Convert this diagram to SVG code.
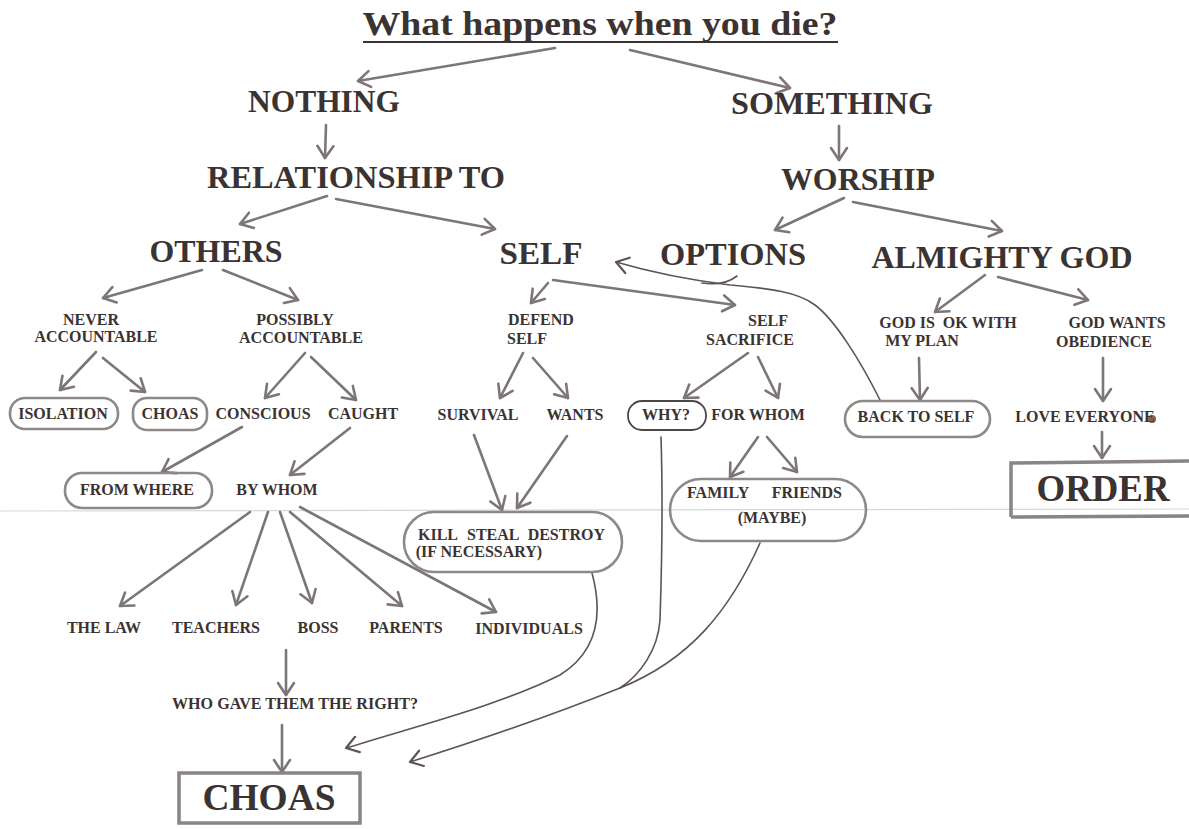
<svg xmlns="http://www.w3.org/2000/svg" width="1189" height="829" viewBox="0 0 1189 829">
<style>
text{font-family:"Liberation Serif","Times New Roman",serif;fill:#3b3232;font-weight:bold}
.big{font-size:32px;text-anchor:middle}
.sm{font-size:16px;text-anchor:middle}
.sm.st{text-anchor:start}
.sm.en{text-anchor:end}
.ar{fill:none;stroke:#7c7676;stroke-width:2.6;stroke-linecap:round;marker-end:url(#v)}
.ln{fill:none;stroke:#5e5454;stroke-width:1.6;stroke-linecap:round}
.ov{fill:none;stroke:#8e8888;stroke-width:2.6}
.box{fill:none;stroke:#8a8484;stroke-width:3.5}
</style>
<defs>
<marker id="v" markerUnits="userSpaceOnUse" markerWidth="20" markerHeight="20" viewBox="0 0 20 20" refX="16" refY="10" orient="auto">
<path d="M4,2 L16,10 L4,18" fill="none" stroke="#7c7676" stroke-width="2.6" stroke-linecap="round" stroke-linejoin="round"/>
</marker>
<marker id="vd" markerUnits="userSpaceOnUse" markerWidth="20" markerHeight="20" viewBox="0 0 20 20" refX="16" refY="10" orient="auto">
<path d="M4,2 L16,10 L4,18" fill="none" stroke="#5e5454" stroke-width="2.2" stroke-linecap="round" stroke-linejoin="round"/>
</marker>
</defs>
<rect width="1189" height="829" fill="#ffffff"/>
<line x1="0" y1="511" x2="1189" y2="509" stroke="#d8d6d6" stroke-width="1.2"/>

<g id="title">
<text x="600" y="35" font-size="33" text-anchor="middle" textLength="475" lengthAdjust="spacingAndGlyphs">What happens when you die?</text>
<line x1="363" y1="42" x2="838" y2="42" stroke="#3b3232" stroke-width="2"/>
</g>

<g id="connectors">
<path class="ar" d="M555,48 L358,81"/>
<path class="ar" d="M630,50 L790,88"/>
<path class="ar" d="M326,125 L325,158"/>
<path class="ar" d="M327,196 L240,224"/>
<path class="ar" d="M336,199 L495,229"/>
<path class="ar" d="M839,126 L839,160"/>
<path class="ar" d="M844,198 L775,230"/>
<path class="ar" d="M853,202 L1002,231"/>
<path class="ar" d="M202,270 L103,298"/>
<path class="ar" d="M223,270 L298,300"/>
<path class="ar" d="M96,352 L60,390"/>
<path class="ar" d="M103,358 L145,392"/>
<path class="ar" d="M305,353 L265,398"/>
<path class="ar" d="M311,357 L356,400"/>
<path class="ar" d="M242,427 L162,472"/>
<path class="ar" d="M350,428 L290,475"/>
<path class="ar" d="M250,512 L120,606"/>
<path class="ar" d="M268,512 L236,605"/>
<path class="ar" d="M280,512 L312,603"/>
<path class="ar" d="M290,512 L402,606"/>
<path class="ar" d="M300,507 L496,612"/>
<path class="ar" d="M286,650 L286,695"/>
<path class="ar" d="M282,725 L282,772"/>
<path class="ar" d="M548,283 L531,303"/>
<path class="ar" d="M553,280 L735,305"/>
<path class="ar" d="M523,353 L500,398"/>
<path class="ar" d="M533,358 L568,398"/>
<path class="ar" d="M474,435 L502,510"/>
<path class="ar" d="M567,436 L517,508"/>
<path class="ar" d="M748,353 L684,398"/>
<path class="ar" d="M758,357 L778,398"/>
<path class="ar" d="M758,437 L730,477"/>
<path class="ar" d="M767,437 L797,472"/>
<path class="ar" d="M985,275 L935,312"/>
<path class="ar" d="M998,277 L1088,300"/>
<path class="ar" d="M919,358 L920,400"/>
<path class="ar" d="M1103,358 L1103,401"/>
<path class="ar" d="M1102,432 L1102,458"/>
<path class="ln" d="M880,400 C860,360 835,320 815,305 C795,290 760,288 730,285 C690,280 650,272 616,262" stroke-width="2" marker-end="url(#vd)"/>
<path class="ln" d="M702,283 C715,285 728,283 737,276" stroke-width="3"/>
<path class="ln" d="M592,573 C602,610 600,650 560,675 C500,705 420,725 346,748" marker-end="url(#vd)"/>
<path class="ln" d="M661,437 C663,500 662,560 660,620 C658,650 640,675 620,688"/>
<path class="ln" d="M760,543 C730,610 690,660 620,688 C560,712 480,740 410,762" marker-end="url(#vd)"/>
</g>

<g id="n-nothing"><text class="big" x="324" y="112" textLength="152" lengthAdjust="spacingAndGlyphs">NOTHING</text></g>
<g id="n-something"><text class="big" x="832" y="114" textLength="202" lengthAdjust="spacingAndGlyphs">SOMETHING</text></g>
<g id="n-relationship"><text class="big" x="356" y="188" textLength="298" lengthAdjust="spacingAndGlyphs">RELATIONSHIP TO</text></g>
<g id="n-worship"><text class="big" x="858" y="190" textLength="154" lengthAdjust="spacingAndGlyphs">WORSHIP</text></g>
<g id="n-others"><text class="big" x="216" y="262" textLength="133" lengthAdjust="spacingAndGlyphs">OTHERS</text></g>
<g id="n-self"><text class="big" x="541" y="264" textLength="83" lengthAdjust="spacingAndGlyphs">SELF</text></g>
<g id="n-options"><text class="big" x="733" y="265" textLength="146" lengthAdjust="spacingAndGlyphs">OPTIONS</text></g>
<g id="n-almighty"><text class="big" x="1002" y="268" textLength="261" lengthAdjust="spacingAndGlyphs">ALMIGHTY GOD</text></g>

<g id="n-never"><text class="sm" x="91" y="325">NEVER</text><text class="sm" x="96" y="342" textLength="123" lengthAdjust="spacingAndGlyphs">ACCOUNTABLE</text></g>
<g id="n-possibly"><text class="sm" x="295" y="325">POSSIBLY</text><text class="sm" x="301" y="343" textLength="124" lengthAdjust="spacingAndGlyphs">ACCOUNTABLE</text></g>
<g id="n-isolation"><rect class="ov" x="10" y="398" width="108" height="31" rx="15"/><text class="sm" x="63" y="419">ISOLATION</text></g>
<g id="n-choas1"><rect class="ov" x="133" y="398" width="74" height="32" rx="14" stroke="#6e6868"/><text class="sm" x="170" y="419">CHOAS</text></g>
<g id="n-conscious"><text class="sm" x="263" y="419">CONSCIOUS</text></g>
<g id="n-caught"><text class="sm" x="363" y="419">CAUGHT</text></g>
<g id="n-fromwhere"><rect class="ov" x="65" y="473" width="147" height="35" rx="17"/><text class="sm" x="137" y="495">FROM WHERE</text></g>
<g id="n-bywhom"><text class="sm" x="277" y="495">BY WHOM</text></g>
<g id="n-law"><text class="sm" x="104" y="633">THE LAW</text></g>
<g id="n-teachers"><text class="sm" x="216" y="633">TEACHERS</text></g>
<g id="n-boss"><text class="sm" x="318" y="633">BOSS</text></g>
<g id="n-parents"><text class="sm" x="406" y="633">PARENTS</text></g>
<g id="n-individuals"><text class="sm" x="529" y="634">INDIVIDUALS</text></g>
<g id="n-whogave"><text class="sm" x="295" y="709" textLength="246" lengthAdjust="spacingAndGlyphs">WHO GAVE THEM THE RIGHT?</text></g>
<g id="n-choas2"><rect class="box" x="179" y="773" width="181" height="50"/><text x="269" y="810" font-size="38" text-anchor="middle" textLength="133" lengthAdjust="spacingAndGlyphs">CHOAS</text></g>

<g id="n-defend"><text class="sm st" x="508" y="325">DEFEND</text><text class="sm st" x="507" y="344">SELF</text></g>
<g id="n-sacrifice"><text class="sm" x="768" y="326">SELF</text><text class="sm" x="750" y="345">SACRIFICE</text></g>
<g id="n-survival"><text class="sm" x="478" y="420">SURVIVAL</text></g>
<g id="n-wants"><text class="sm" x="575" y="420">WANTS</text></g>
<g id="n-why"><rect x="628" y="401" width="78" height="29" rx="14" fill="none" stroke="#4e4545" stroke-width="1.8"/><text class="sm" x="666" y="420">WHY?</text></g>
<g id="n-forwhom"><text class="sm" x="758" y="420">FOR WHOM</text></g>
<g id="n-kill"><rect class="ov" x="404" y="512" width="218" height="60" rx="30"/><text class="sm st" x="418" y="540">KILL</text><text class="sm st" x="467" y="540">STEAL</text><text class="sm en" x="605" y="540">DESTROY</text><text class="sm" x="479" y="557">(IF NECESSARY)</text></g>
<g id="n-family"><rect class="ov" x="670" y="479" width="196" height="62" rx="31"/><text class="sm st" x="687" y="498">FAMILY</text><text class="sm en" x="842" y="498">FRIENDS</text><text class="sm" x="772" y="523">(MAYBE)</text></g>

<g id="n-godok"><text class="sm" x="948" y="328" xml:space="preserve">GOD IS  OK WITH</text><text class="sm" x="922" y="346">MY PLAN</text></g>
<g id="n-godwants"><text class="sm" x="1117" y="328">GOD WANTS</text><text class="sm" x="1104" y="347">OBEDIENCE</text></g>
<g id="n-back"><rect class="ov" x="845" y="401" width="145" height="36" rx="18"/><text class="sm" x="916" y="422">BACK TO SELF</text></g>
<g id="n-love"><text class="sm" x="1085" y="422">LOVE EVERYONE</text><circle cx="1152" cy="419" r="4" fill="#6a3a30" opacity="0.8"/></g>
<g id="n-order"><path class="box" d="M1011,517 L1011,463 L1189,461 M1011,517 L1189,516"/><text x="1103" y="501" font-size="38" text-anchor="middle" textLength="133" lengthAdjust="spacingAndGlyphs">ORDER</text></g>
</svg>
